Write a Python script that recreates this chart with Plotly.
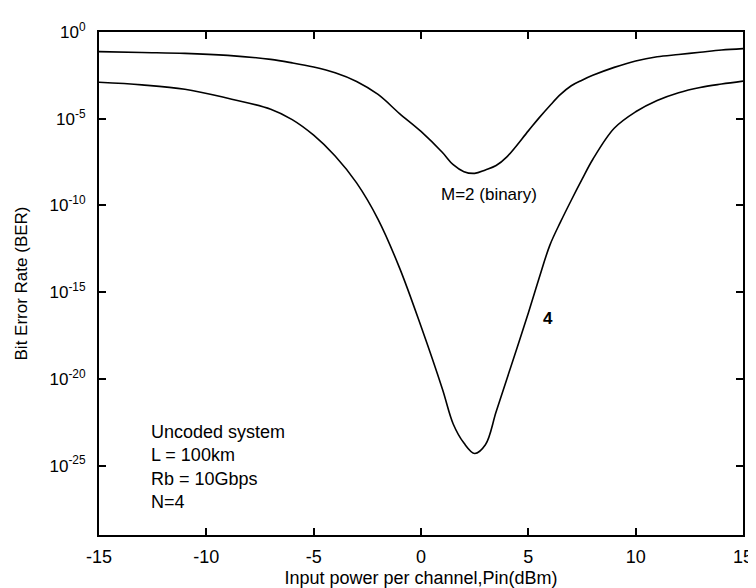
import numpy as np
import plotly.graph_objects as go

# Input power per channel (dBm)
pin_dbm = [-15, -13, -11, -9, -7, -6, -5, -4, -3, -2, -1, 0, 1, 1.5, 2, 2.5,
           3, 3.5, 4, 5, 5.5, 6, 6.5, 7, 7.5, 8, 9, 10, 11, 12, 13, 14, 15]

# BER exponents (log10)
ber_m2_log10 = [-1.13, -1.18, -1.23, -1.35, -1.58, -1.78, -2.02, -2.35, -2.85, -3.6,
                -4.7, -5.73, -6.95, -7.65, -8.05, -8.15, -7.95, -7.7, -7.2, -5.7,
                -4.95, -4.25, -3.6, -3.1, -2.78, -2.5, -2.04, -1.67, -1.43, -1.3,
                -1.17, -1.04, -0.96]
ber_m4_log10 = [-2.9, -3.05, -3.3, -3.82, -4.45, -5.05, -5.95, -7.15, -8.7, -10.8,
                -13.6, -16.97, -20.6, -22.6, -23.7, -24.3, -23.8, -21.9, -20.0, -16.2,
                -14.2, -12.3, -10.95, -9.7, -8.5, -7.35, -5.55, -4.6, -3.95, -3.5,
                -3.2, -3.0, -2.83]

ber_m2 = np.power(10.0, ber_m2_log10)
ber_m4 = np.power(10.0, ber_m4_log10)

x_ticks = [-15, -10, -5, 0, 5, 10, 15]
x_tick_text = ["-15", "-10", "-5", "0", "5", "10", "15"]
y_tick_exps = [0, -5, -10, -15, -20, -25]
y_tick_text = ["10<sup>%d</sup>" % e for e in y_tick_exps]

FONT = "Liberation Sans, Arial, sans-serif"

fig = go.Figure()
fig.add_trace(go.Scatter(x=pin_dbm, y=ber_m2, mode="lines",
                         line=dict(color="black", width=1.6, shape="spline", smoothing=1.0),
                         showlegend=False))
fig.add_trace(go.Scatter(x=pin_dbm, y=ber_m4, mode="lines",
                         line=dict(color="black", width=1.6, shape="spline", smoothing=1.0),
                         showlegend=False))

fig.add_annotation(x=3.17, y=-9.38, text="M=2 (binary)", showarrow=False,
                   font=dict(size=17, color="black", family=FONT))
fig.add_annotation(x=5.92, y=-16.5, text="<b>4</b>", showarrow=False,
                   font=dict(size=17, color="black", family=FONT))
fig.add_annotation(x=-12.66, y=-25.1, xanchor="left", yanchor="middle", align="left",
                   text="Uncoded system<br>L = 100km<br>Rb = 10Gbps<br>N=4",
                   showarrow=False, font=dict(size=18, color="black", family=FONT))

fig.update_xaxes(range=[-15, 15], tickvals=x_ticks, ticktext=x_tick_text,
                 ticks="inside", ticklen=7,
                 tickwidth=2, tickcolor="black", showline=True, linewidth=2,
                 linecolor="black", mirror="ticks", showgrid=False, zeroline=False,
                 ticklabelstandoff=4,
                 tickfont=dict(size=18, color="black", family=FONT),
                 title=dict(text="Input power per channel,Pin(dBm)", standoff=6,
                            font=dict(size=18, color="black", family=FONT)))
fig.update_yaxes(type="log", range=[-29, 0], tickvals=[10.0 ** e for e in y_tick_exps],
                 ticktext=y_tick_text, ticks="inside", ticklen=7, tickwidth=2,
                 tickcolor="black", showline=True, linewidth=2, linecolor="black",
                 mirror="ticks", showgrid=False, zeroline=False,
                 ticklabelstandoff=8,
                 tickfont=dict(size=17, color="black", family=FONT),
                 title=dict(text="Bit Error Rate (BER)", standoff=18,
                            font=dict(size=17, color="black", family=FONT)))

fig.update_layout(width=756, height=588, margin=dict(l=91, r=11, t=24, b=57),
                  paper_bgcolor="white", plot_bgcolor="white",
                  font=dict(family=FONT, color="black"))

fig.write_html("out.html")
